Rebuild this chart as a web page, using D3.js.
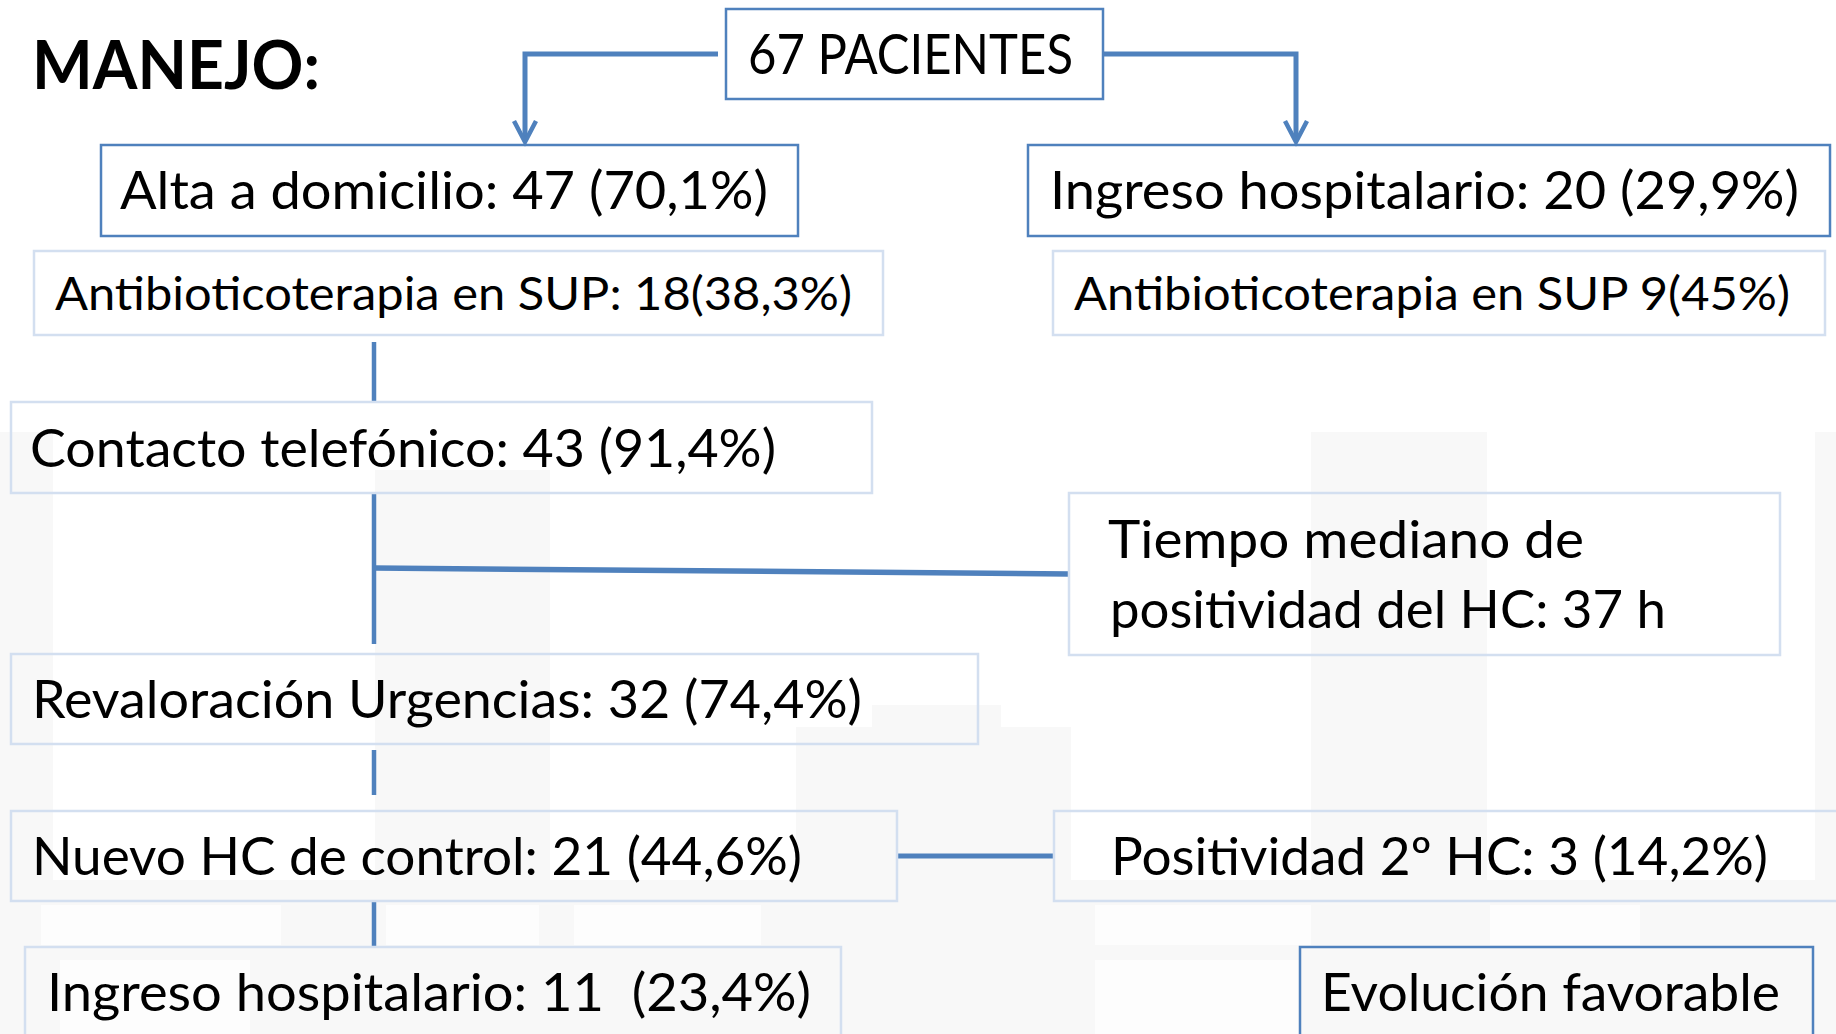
<!DOCTYPE html>
<html>
<head>
<meta charset="utf-8">
<script src="https://cdn.jsdelivr.net/npm/d3@7"></script>
<style>
  html, body { margin: 0; padding: 0; background: #fff; overflow: hidden; }
  text { font-family: Lato, "Open Sans", sans-serif; white-space: pre; }
</style>
</head>
<body>
<div class="chart"></div>
<script>
const dims = { width: 1836, height: 1034 };

// texts of the flow chart
const title = "MANEJO:";
const nodeLabels = [
  "67 PACIENTES",
  "Alta a domicilio: 47 (70,1%)",
  "Antibioticoterapia en SUP: 18(38,3%)",
  "Ingreso hospitalario: 20 (29,9%)",
  "Antibioticoterapia en SUP 9(45%)",
  "Contacto telefónico: 43 (91,4%)",
  "Tiempo mediano de\npositividad del HC: 37 h",
  "Revaloración Urgencias: 32 (74,4%)",
  "Nuevo HC de control: 21 (44,6%)",
  "Positividad 2º HC: 3 (14,2%)",
  "Ingreso hospitalario: 11  (23,4%)",
  "Evolución favorable"
];

// layout, in slide pixels
const nodeBoxes = [
  [726, 9, 1103, 99], [101, 145, 798, 236], [34, 251, 883, 335], [1028, 145, 1830, 236],
  [1053, 251, 1825, 335], [11, 402, 872, 493], [1069, 493, 1780, 655], [11, 654, 978, 744],
  [11, 811, 897, 901], [1054, 811, 1850, 901], [25, 947, 841, 1060], [1300, 947, 1813, 1060]
];
// [x, baseline, width] for each line
const nodeText = [
  [[748, 74, 325]], [[120, 209, 648]], [[55, 310, 797]], [[1050, 209, 749]],
  [[1074, 310, 716]], [[30, 467, 746]], [[1108, 558, 476], [1110, 628, 556]], [[32, 718, 830]],
  [[32, 875, 770]], [[1111, 875, 657]], [[47, 1011, 764]], [[1321, 1011, 459]]
];
const nodeFont = [57, 52, 46, 52, 46, 52, 52, 52, 52, 52, 52, 52];
const nodeStrong = [true, true, false, true, false, false, false, false, false, false, false, true];

const connectors = [
  { pts: [[718, 54], [525, 54], [525, 141]], arrow: true, w: 5 },
  { pts: [[1104, 54], [1296, 54], [1296, 141]], arrow: true, w: 5 },
  { pts: [[374, 342], [374, 402]], w: 4.5 },
  { pts: [[374, 493], [374, 644]], w: 4.5 },
  { pts: [[374, 568], [1069, 574]], w: 5.5 },
  { pts: [[374, 750], [374, 795]], w: 4.5 },
  { pts: [[374, 901], [374, 947]], w: 4.5 },
  { pts: [[897, 856], [1054, 856]], w: 5 }
];

// faint watermark blocks in the background
const bgBlocks = [
  [0, 432, 53, 1034], [375, 470, 550, 1034], [796, 727, 1071, 1034], [872, 705, 1001, 727],
  [1311, 432, 1487, 1034], [1815, 432, 1836, 1034], [0, 880, 1836, 1034]
];
const bgHoles = [
  [41, 905, 281, 945], [386, 905, 539, 945], [574, 905, 761, 945], [1095, 905, 1311, 945],
  [1490, 905, 1640, 945], [60, 960, 250, 1034], [1095, 960, 1300, 1034]
];

const blue = '#4F81BD';
const lightBlue = '#D3DFF0';

const x = d3.scaleLinear().domain([0, dims.width]).range([0, dims.width]);
const y = d3.scaleLinear().domain([0, dims.height]).range([0, dims.height]);

const svg = d3.select(".chart")
  .append("svg")
  .attr("width", dims.width)
  .attr("height", dims.height);

const rectAttrs = (sel) => sel
  .attr("x", d => x(d[0]))
  .attr("y", d => y(d[1]))
  .attr("width", d => x(d[2]) - x(d[0]))
  .attr("height", d => y(d[3]) - y(d[1]));

svg.append("g").selectAll("rect").data(bgBlocks).enter().append("rect")
  .call(rectAttrs).attr("fill", "#f8f8f8");
svg.append("g").selectAll("rect").data(bgHoles).enter().append("rect")
  .call(rectAttrs).attr("fill", "#fdfdfd");

// title
svg.append("text")
  .attr("x", x(32)).attr("y", y(89))
  .attr("font-size", 66).attr("font-weight", "bold")
  .attr("textLength", 288).attr("lengthAdjust", "spacingAndGlyphs")
  .style("fill", "#000")
  .text(title);

// connectors
const line = d3.line().x(d => x(d[0])).y(d => y(d[1]));
svg.append("g").selectAll("path").data(connectors).enter().append("path")
  .attr("d", d => line(d.pts))
  .attr("fill", "none").attr("stroke", blue)
  .attr("stroke-width", d => d.w)
  .attr("stroke-linejoin", "miter");

svg.append("g").selectAll("path").data(connectors.filter(c => c.arrow)).enter().append("path")
  .attr("d", d => {
    const tip = d.pts[d.pts.length - 1];
    return line([[tip[0] - 11, tip[1] - 20], [tip[0], tip[1] + 1], [tip[0] + 11, tip[1] - 20]]);
  })
  .attr("fill", "none").attr("stroke", blue).attr("stroke-width", 4.5)
  .attr("stroke-linejoin", "miter");

// boxes
const nodes = nodeLabels.map((label, i) => ({
  lines: label.split("\n"), box: nodeBoxes[i], pos: nodeText[i], fs: nodeFont[i], strong: nodeStrong[i]
}));

svg.append("g").selectAll("rect").data(nodes).enter().append("rect")
  .attr("x", d => x(d.box[0])).attr("y", d => y(d.box[1]))
  .attr("width", d => x(d.box[2]) - x(d.box[0]))
  .attr("height", d => y(d.box[3]) - y(d.box[1]))
  .attr("fill", "none")
  .attr("stroke", d => d.strong ? blue : lightBlue)
  .attr("stroke-width", d => d.strong ? 2.5 : 2.5);

const labels = svg.append("g");
nodes.forEach(n => {
  n.lines.forEach((t, j) => {
    labels.append("text")
      .attr("x", x(n.pos[j][0])).attr("y", y(n.pos[j][1]))
      .attr("font-size", n.fs)
      .attr("textLength", n.pos[j][2]).attr("lengthAdjust", "spacingAndGlyphs")
      .style("fill", "#000")
      .text(t);
  });
});
</script>
</body>
</html>
